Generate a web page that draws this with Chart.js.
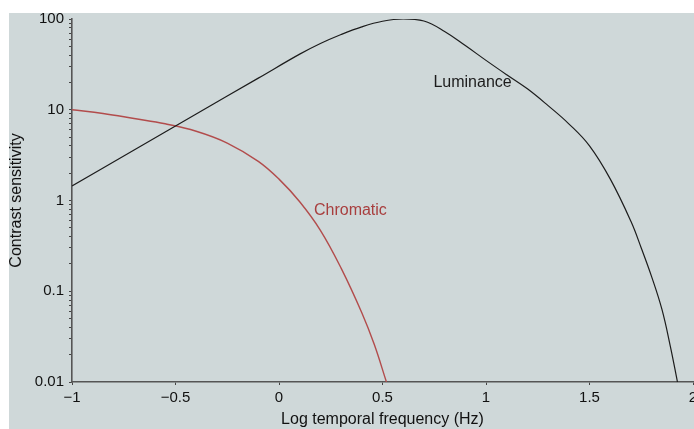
<!DOCTYPE html>
<html>
<head>
<meta charset="utf-8">
<script src="https://cdn.jsdelivr.net/npm/chart.js@4.4.1/dist/chart.umd.min.js"></script>
<style>
  html, body { margin: 0; padding: 0; background: #ffffff; }
  #wrap { width: 694px; height: 429px; position: relative; }
</style>
</head>
<body>
<div id="wrap"><canvas id="csfChart" width="694" height="429"></canvas></div>
<script>
// log temporal frequency (Hz) vs contrast sensitivity
var lumFreq = [-1, -0.7, -0.4, -0.1, 0.1, 0.2, 0.3, 0.4, 0.5, 0.6, 0.7, 0.8, 0.9, 1.0, 1.1, 1.2, 1.3, 1.4, 1.5, 1.6, 1.7, 1.75, 1.8, 1.85, 1.89, 1.925];
var lumSens = [1.45, 3.6, 9.0, 22.3, 41, 53.7, 67.5, 82, 94.4, 100, 95, 73, 51, 35, 24.3, 17, 11.1, 7.0, 4.0, 1.73, 0.59, 0.30, 0.145, 0.063, 0.025, 0.01];

var chromFreq = [-1, -0.85, -0.7, -0.55, -0.4, -0.25, -0.1, 0, 0.1, 0.2, 0.3, 0.4, 0.46, 0.519];
var chromSens = [10, 9.1, 8.0, 7.0, 5.8, 4.3, 2.7, 1.72, 0.97, 0.47, 0.18, 0.058, 0.026, 0.01];

var xTicks = [-1, -0.5, 0, 0.5, 1, 1.5, 2];
var xTickLabels = ["\u22121", "\u22120.5", "0", "0.5", "1", "1.5", "2"];
var yTicks = [0.01, 0.1, 1, 10, 100];
var yTickLabels = ["0.01", "0.1", "1", "10", "100"];

// where the curve names sit, in data units
var lumLabel = { text: "Luminance", x: 0.935, y: 19.7 };
var chromLabel = { text: "Chromatic", x: 0.345, y: 0.77 };

var FONT = "'Liberation Sans', Arial, Helvetica, sans-serif";
var LUM_COLOR = "#1c1c1c";
var CHROM_COLOR = "#b24c4c";

function toPoints(xs, ys) {
    var pts = [];
    for (var i = 0; i < xs.length; i++) pts.push({ x: xs[i], y: ys[i] });
    return pts;
}

// y ticks: decades plus the 2..9 minor marks in between
function buildLogTicks() {
    var ticks = [];
    for (var d = 0; d < yTicks.length; d++) {
        ticks.push({ value: yTicks[d], major: true });
        if (d < yTicks.length - 1) {
            for (var m = 2; m <= 9; m++) ticks.push({ value: yTicks[d] * m, major: false });
        }
    }
    return ticks;
}

var panelBackground = {
    id: "panelBackground",
    beforeDraw: function(chart) {
        var ctx = chart.ctx;
        ctx.save();
        ctx.fillStyle = "#cfd8d9";
        ctx.fillRect(9, 13, chart.width - 9, chart.height - 13);
        ctx.restore();
    }
};

var curveNames = {
    id: "curveNames",
    afterDatasetsDraw: function(chart) {
        var ctx = chart.ctx;
        var xs = chart.scales.x, ys = chart.scales.y;
        ctx.save();
        ctx.font = "16px " + FONT;
        ctx.textAlign = "center";
        ctx.textBaseline = "middle";
        ctx.fillStyle = LUM_COLOR;
        ctx.fillText(lumLabel.text, xs.getPixelForValue(lumLabel.x), ys.getPixelForValue(lumLabel.y));
        ctx.fillStyle = "#a83e3e";
        ctx.fillText(chromLabel.text, xs.getPixelForValue(chromLabel.x), ys.getPixelForValue(chromLabel.y));
        ctx.restore();
    }
};

var chart = new Chart(document.getElementById("csfChart"), {
    type: "line",
    data: {
        datasets: [
            {
                label: "Luminance",
                data: toPoints(lumFreq, lumSens),
                borderColor: LUM_COLOR,
                borderWidth: 1.2,
                pointRadius: 0,
                tension: 0.4,
                fill: false
            },
            {
                label: "Chromatic",
                data: toPoints(chromFreq, chromSens),
                borderColor: CHROM_COLOR,
                borderWidth: 1.4,
                pointRadius: 0,
                tension: 0.4,
                fill: false
            }
        ]
    },
    options: {
        responsive: false,
        animation: false,
        devicePixelRatio: 1,
        layout: { padding: { left: 0, top: 19, right: 1, bottom: 0 } },
        plugins: {
            legend: { display: false },
            tooltip: { enabled: false }
        },
        scales: {
            x: {
                type: "linear",
                min: -1,
                max: 2,
                afterBuildTicks: function(scale) {
                    scale.ticks = xTicks.map(function(v) { return { value: v }; });
                },
                afterFit: function(scale) {
                    scale.height = 47;
                    scale.paddingLeft = 0;
                    scale.paddingRight = 0;
                },
                ticks: {
                    autoSkip: false,
                    maxRotation: 0,
                    padding: 4,
                    color: "#111",
                    font: { family: FONT, size: 15 },
                    callback: function(value, index) { return xTickLabels[index]; }
                },
                grid: { drawOnChartArea: false, tickLength: 3, color: "#444", lineWidth: 1 },
                border: { color: "#555", width: 1.6 },
                title: {
                    display: true,
                    text: "Log temporal frequency (Hz)",
                    color: "#111",
                    font: { family: FONT, size: 16 },
                    padding: { top: 0, bottom: 0 }
                }
            },
            y: {
                type: "logarithmic",
                min: 0.01,
                max: 100,
                afterBuildTicks: function(scale) {
                    scale.ticks = buildLogTicks();
                },
                afterFit: function(scale) {
                    scale.width = 72;
                    scale.paddingTop = 0;
                    scale.paddingBottom = 0;
                },
                ticks: {
                    autoSkip: false,
                    padding: 5,
                    color: "#111",
                    font: { family: FONT, size: 15 },
                    callback: function(value) {
                        var i = yTicks.indexOf(value);
                        return i >= 0 ? yTickLabels[i] : "";
                    }
                },
                grid: { drawOnChartArea: false, tickLength: 3, color: "#444", lineWidth: 1 },
                border: { color: "#555", width: 1.6 },
                title: {
                    display: true,
                    text: "Contrast sensitivity",
                    color: "#111",
                    font: { family: FONT, size: 16 },
                    padding: { top: 7, bottom: 0 }
                }
            }
        }
    },
    plugins: [panelBackground, curveNames]
});
</script>
</body>
</html>
